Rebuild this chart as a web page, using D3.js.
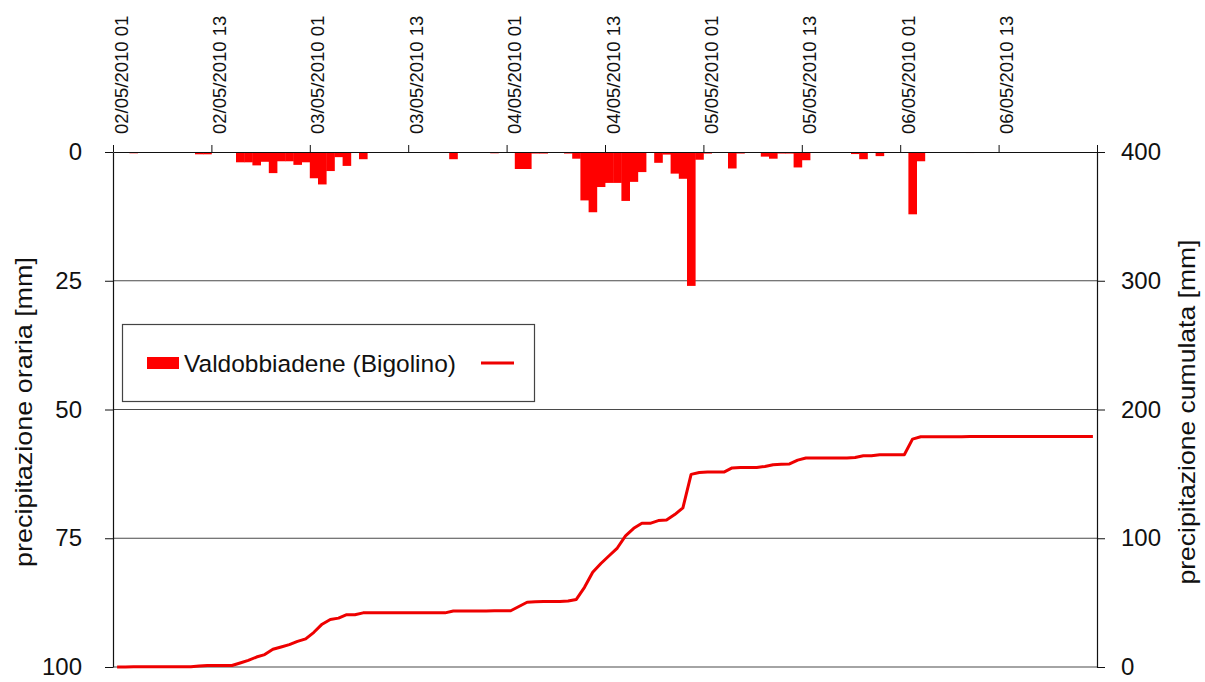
<!DOCTYPE html>
<html>
<head>
<meta charset="utf-8">
<script src="https://cdn.jsdelivr.net/npm/d3@7"></script>
<style>
  body { margin: 0; background: #fff; }
  text { font-family: "Liberation Sans", Arial, sans-serif; fill: #111; }
</style>
</head>
<body>
<div id="chart"></div>
<script>
// hourly rain [mm], 120 hours from 02/05/2010 01 (rows of 12 hours)
var hourly = [
  0, 0, 0.25, 0, 0, 0, 0, 0, 0, 0, 0.45, 0.45,
  0, 0, 0, 2.0, 2.0, 2.6, 1.9, 4.1, 1.8, 1.8, 2.5, 2.0,
  5.1, 6.3, 3.7, 1.0, 2.7, 0, 1.4, 0, 0, 0, 0, 0,
  0, 0, 0, 0, 0, 1.4, 0, 0, 0, 0, 0.25, 0,
  0, 3.3, 3.3, 0.3, 0.3, 0, 0, 0.3, 1.3, 9.4, 11.7, 6.8,
  6.0, 6.0, 9.5, 5.8, 3.9, 0, 2.1, 0.5, 4.2, 5.2, 26.0, 1.5,
  0.3, 0, 0, 3.2, 0.3, 0, 0, 0.9, 1.3, 0.3, 0.3, 3.0,
  1.6, 0, 0, 0, 0, 0, 0.4, 1.4, 0, 0.8, 0, 0,
  0, 12.1, 1.8, 0, 0, 0, 0, 0, 0.2, 0, 0, 0,
  0, 0, 0, 0, 0, 0, 0, 0, 0, 0, 0, 0
];

// cumulated rain [mm]
var cumulated = [
  0, 0, 0.25, 0.25, 0.25, 0.25, 0.25, 0.25, 0.25, 0.25, 0.7, 1.15,
  1.15, 1.15, 1.15, 3.15, 5.15, 7.75, 9.65, 13.75, 15.55, 17.35, 19.85, 21.85,
  26.95, 33.25, 36.95, 37.95, 40.65, 40.65, 42.05, 42.05, 42.05, 42.05, 42.05, 42.05,
  42.05, 42.05, 42.05, 42.05, 42.05, 43.45, 43.45, 43.45, 43.45, 43.45, 43.7, 43.7,
  43.7, 47.0, 50.3, 50.6, 50.9, 50.9, 50.9, 51.2, 52.5, 61.9, 73.6, 80.4,
  86.4, 92.4, 101.9, 107.7, 111.6, 111.6, 113.7, 114.2, 118.4, 123.6, 149.6, 151.1,
  151.4, 151.4, 151.4, 154.6, 154.9, 154.9, 154.9, 155.8, 157.1, 157.4, 157.7, 160.7,
  162.3, 162.3, 162.3, 162.3, 162.3, 162.3, 162.7, 164.1, 164.1, 164.9, 164.9, 164.9,
  164.9, 177.0, 178.8, 178.8, 178.8, 178.8, 178.8, 178.8, 179.0, 179.0, 179.0, 179.0,
  179.0, 179.0, 179.0, 179.0, 179.0, 179.0, 179.0, 179.0, 179.0, 179.0, 179.0, 179.0
];

var tickHours = [0, 12, 24, 36, 48, 60, 72, 84, 96, 108];
var tickLabels = ["02/05/2010 01", "02/05/2010 13", "03/05/2010 01", "03/05/2010 13",
                  "04/05/2010 01", "04/05/2010 13", "05/05/2010 01", "05/05/2010 13",
                  "06/05/2010 01", "06/05/2010 13"];
var leftTicks = [0, 25, 50, 75, 100];
var rightTicks = [0, 100, 200, 300, 400];
var seriesName = "Valdobbiadene (Bigolino)";

var W = 1205, H = 682;
var plotL = 113, plotR = 1097, plotT = 152, plotB = 667;

var svg = d3.select("#chart")
  .append("svg")
    .attr("width", W)
    .attr("height", H);

// scales
var x = d3.scaleBand()
  .domain(d3.range(hourly.length))
  .range([plotL, plotR])
  .padding(0);
var xh = d3.scaleLinear()
  .domain([0, hourly.length])
  .range([plotL, plotR]);
var yL = d3.scaleLinear()
  .domain([0, 100])
  .range([plotT, plotB]);
var yR = d3.scaleLinear()
  .domain([0, 400])
  .range([plotB, plotT]);

// gridlines
svg.append("g")
  .selectAll("line")
  .data([25, 50, 75, 100])
  .enter()
  .append("line")
    .attr("x1", plotL).attr("x2", plotR)
    .attr("y1", function (d) { return yL(d); })
    .attr("y2", function (d) { return yL(d); })
    .attr("stroke", "#4a4a4a")
    .attr("stroke-width", 1.2);

// bars (hanging from the top)
svg.append("g")
  .selectAll("rect")
  .data(hourly)
  .enter()
  .append("rect")
    .attr("x", function (d, i) { return x(i); })
    .attr("y", yL(0))
    .attr("width", x.bandwidth() + 0.4)
    .attr("height", function (d) { return yL(d) - yL(0); })
    .attr("fill", "#ff0000");

// cumulated line
var line = d3.line()
  .x(function (d, i) { return x(i) + x.bandwidth() / 2; })
  .y(function (d) { return yR(d); });
svg.append("path")
  .datum(cumulated)
  .attr("d", line)
  .attr("fill", "none")
  .attr("stroke", "#ee0000")
  .attr("stroke-width", 3)
  .attr("stroke-linejoin", "round");

// top time axis
var xAxis = svg.append("g")
  .attr("transform", "translate(0," + plotT + ")")
  .call(d3.axisTop(xh)
    .tickValues(tickHours.concat([hourly.length]))
    .tickSize(7)
    .tickSizeOuter(0)
    .tickFormat(function (d) { var k = tickHours.indexOf(d); return k < 0 ? "" : tickLabels[k]; }));
xAxis.select(".domain").attr("stroke", "#111").attr("stroke-width", 1.2);
xAxis.selectAll(".tick line").attr("stroke", "#111");
xAxis.selectAll(".tick text")
  .attr("font-size", 18.5)
  .attr("text-anchor", "start")
  .attr("x", 0).attr("y", 0).attr("dy", 0)
  .attr("transform", "translate(14,-18) rotate(-90)");

// left axis
var lAxis = svg.append("g")
  .attr("transform", "translate(" + plotL + ",0)")
  .call(d3.axisLeft(yL).tickValues(leftTicks).tickSize(8).tickPadding(23).tickSizeOuter(0));
lAxis.select(".domain").attr("stroke", "#111").attr("stroke-width", 1.2);
lAxis.selectAll(".tick line").attr("stroke", "#111");
lAxis.selectAll(".tick text").attr("font-size", 24);

// right axis
var rAxis = svg.append("g")
  .attr("transform", "translate(" + plotR + ",0)")
  .call(d3.axisRight(yR).tickValues(rightTicks).tickSize(8).tickPadding(16).tickSizeOuter(0));
rAxis.select(".domain").attr("stroke", "#111").attr("stroke-width", 1.2);
rAxis.selectAll(".tick line").attr("stroke", "#111");
rAxis.selectAll(".tick text").attr("font-size", 24);

// axis titles
svg.append("text")
  .attr("transform", "translate(23,412) rotate(-90)")
  .attr("text-anchor", "middle")
  .attr("dominant-baseline", "central")
  .attr("font-size", 24)
  .attr("textLength", 310)
  .attr("lengthAdjust", "spacingAndGlyphs")
  .text("precipitazione oraria [mm]");
svg.append("text")
  .attr("transform", "translate(1186,412) rotate(-90)")
  .attr("text-anchor", "middle")
  .attr("dominant-baseline", "central")
  .attr("font-size", 24)
  .attr("textLength", 345)
  .attr("lengthAdjust", "spacingAndGlyphs")
  .text("precipitazione cumulata [mm]");

// legend
var legend = svg.append("g");
legend.append("rect")
  .attr("x", 122.5).attr("y", 324.5)
  .attr("width", 412).attr("height", 77)
  .attr("fill", "#fff")
  .attr("stroke", "#444")
  .attr("stroke-width", 1.2);
legend.append("rect")
  .attr("x", 147).attr("y", 357)
  .attr("width", 32).attr("height", 12)
  .attr("fill", "#ff0000");
legend.append("text")
  .attr("x", 184).attr("y", 372)
  .attr("font-size", 24.5)
  .text(seriesName);
legend.append("line")
  .attr("x1", 481).attr("x2", 514)
  .attr("y1", 363).attr("y2", 363)
  .attr("stroke", "#ee0000")
  .attr("stroke-width", 3);
</script>
</body>
</html>
